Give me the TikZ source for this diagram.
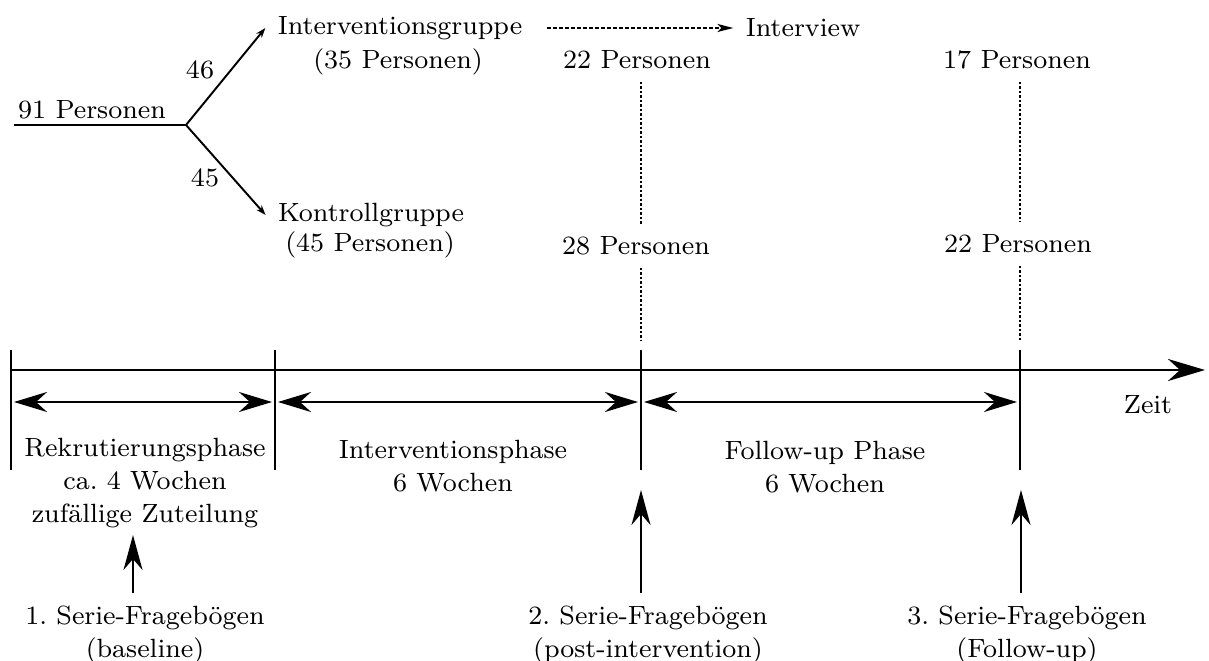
\documentclass[tikz,border=0pt]{standalone}
\usepackage{fontspec}
\usetikzlibrary{arrows.meta}
\begin{document}
\begin{tikzpicture}[x=0.01cm, y=-0.01cm,
    every node/.style={font=\fontsize{7.5}{9.4}\selectfont\frenchspacing, align=center},
    splitarrow/.style={line width=0.55pt, -{Stealth[length=0.1cm, width=0.07cm]}},
    dasharrow/.style={line width=0.5pt, dash pattern=on 0.04cm off 0.02cm, -{Stealth[length=0.16cm, width=0.08cm, inset=0.04cm]}},
    dotline/.style={line width=0.5pt, dash pattern=on 0.025cm off 0.02cm},
    tickline/.style={line width=0.45pt},
    timeline/.style={line width=0.85pt, -{Stealth[length=0.37cm, width=0.22cm, inset=0.12cm]}},
    phasearrow/.style={line width=0.75pt, {Stealth[length=0.33cm, width=0.2cm, inset=0.11cm]}-{Stealth[length=0.33cm, width=0.2cm, inset=0.11cm]}},
    uparrow/.style={line width=0.5pt, -{Stealth[length=0.35cm, width=0.19cm, inset=0.11cm]}}]
  \useasboundingbox (0,0) rectangle (1209,661);
  \draw
    (92,110) node (p91){91 Personen}
    (400,28) node (ig){Interventionsgruppe}
    (398,62) node (igp){(35 Personen)}
    (371,215) node (kg){Kontrollgruppe}
    (370,245) node (kgp){(45 Personen)}
    (200,70) node (n46){46}
    (205,178) node (n45){45}
    (803,28) node (iv){Interview}
    (637,60) node (a22){22 Personen}
    (636,246) node (a28){28 Personen}
    (1017,60) node (b17){17 Personen}
    (1018,244) node (b22){22 Personen}
    (1148,405) node (zeit){Zeit}
    (145,483) node (ph1){Rekrutierungsphase\\ca.~4 Wochen\\zufällige Zuteilung}
    (453,466) node (ph2){Interventionsphase\\6 Wochen}
    (825,467) node (ph3){Follow-up Phase\\6 Wochen}
    (145,635) node (q1){1. Serie-Fragebögen\\(baseline)}
    (648,635) node (q2){2. Serie-Fragebögen\\(post-intervention)}
    (1027,635) node (q3){3. Serie-Fragebögen\\(Follow-up)};
  % split of the sample
  \coordinate (start) at (14,125);
  \coordinate (split) at (186,125);
  \draw[line width=0.55pt] (start) -- (split);
  \draw[splitarrow] (split) -- (ig.west);
  \draw[splitarrow] (split) -- (kg.west);
  \draw[dasharrow, shorten <=0.12cm] (ig) -- (iv);
  % time axis
  \coordinate (k0) at (11,350);
  \coordinate (k1) at (275,350);
  \coordinate (k2) at (641,350);
  \coordinate (k3) at (1020,350);
  \draw[timeline] (11,370) -- (1205,370);
  \foreach \k in {k0,k1,k2,k3}
    \draw[tickline] (\k) -- ++(0,120);
  \begin{scope}[shorten <=0.03cm, shorten >=0.03cm]
    \draw[phasearrow] (k0 |- 0,402) -- (k1 |- 0,402);
    \draw[phasearrow] (k1 |- 0,402) -- (k2 |- 0,402);
    \draw[phasearrow] (k2 |- 0,402) -- (k3 |- 0,402);
  \end{scope}
  % drop-outs
  \draw[dotline] (a22.south -| k2) -- (a28.north -| k2);
  \draw[dotline, shorten >=0.1cm] (a28.south -| k2) -- (k2);
  \draw[dotline] (b17.south -| k3) -- (b22.north -| k3);
  \draw[dotline, shorten >=0.1cm] (b22.south -| k3) -- (k3);
  % questionnaires
  \coordinate (s1) at (133,535);
  \coordinate (s2) at (641,490);
  \coordinate (s3) at (1021,490);
  \draw[uparrow] (q1.north -| s1) -- (s1);
  \draw[uparrow] (q2.north -| s2) -- (s2);
  \draw[uparrow] (q3.north -| s3) -- (s3);
\end{tikzpicture}
\end{document}
